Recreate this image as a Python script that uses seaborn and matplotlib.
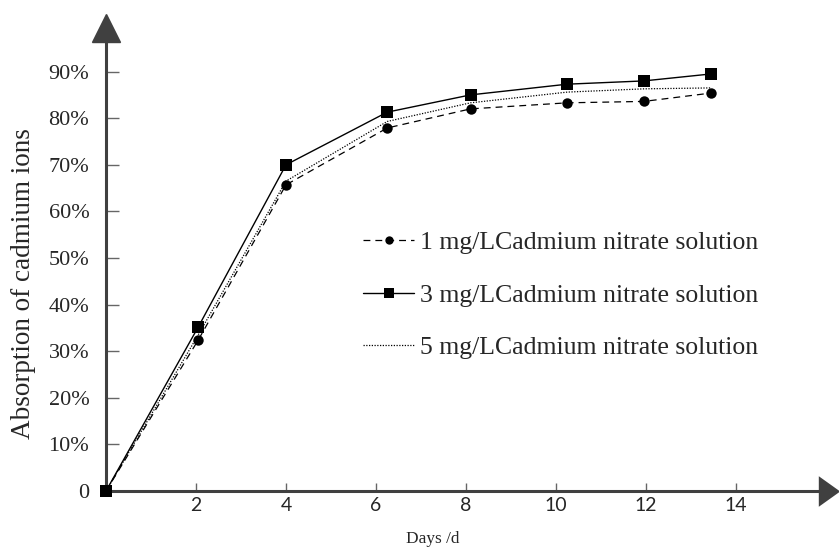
import matplotlib
matplotlib.use("Agg")
import matplotlib.pyplot as plt
import seaborn as sns
import numpy as np

# ---- data ----
days = [0, 2.05, 4.0, 6.25, 8.1, 10.25, 11.95, 13.45]
cd_1mg = [0, 32.4, 65.7, 77.9, 82.0, 83.3, 83.6, 85.4]
cd_3mg = [0, 35.2, 70.0, 81.3, 85.0, 87.3, 88.0, 89.5]
cd_5mg = [0, 33.5, 66.5, 79.3, 83.3, 85.6, 86.3, 86.5]
labels = ["1 mg/LCadmium nitrate solution",
          "3 mg/LCadmium nitrate solution",
          "5 mg/LCadmium nitrate solution"]
x_ticks = [2, 4, 6, 8, 10, 12, 14]
y_ticks = [0, 10, 20, 30, 40, 50, 60, 70, 80, 90]
y_ticklabels = ["0", "10%", "20%", "30%", "40%", "50%", "60%", "70%", "80%", "90%"]

sns.set_style("white")
plt.rcParams["font.family"] = ["Liberation Serif", "DejaVu Serif"]

W, H = 839, 547
fig = plt.figure(figsize=(W / 100, H / 100), dpi=100)
x0, y0 = 106, 491          # pixel of the origin
x1, y1 = 828.5, 27.5       # pixel of arrow centres
ax = fig.add_axes([x0 / W, (H - y0) / H, (x1 - x0) / W, (y0 - y1) / H])

px_per_day = 45.0
px_per_pct = 4.66
ax.set_xlim(0, (x1 - x0) / px_per_day)
ax.set_ylim(0, (y0 - y1) / px_per_pct)

ink = "black"
sns.lineplot(x=days, y=cd_1mg, ax=ax, color=ink, linewidth=0.9,
             linestyle=(0, (5.5, 4)), marker="o", markersize=7.5,
             markeredgewidth=0, label=labels[0], clip_on=False, zorder=3)
sns.lineplot(x=days, y=cd_3mg, ax=ax, color=ink, linewidth=1.0,
             linestyle="-", marker="s", markersize=8.5,
             markeredgewidth=0, label=labels[1], clip_on=False, zorder=4)
sns.lineplot(x=days, y=cd_5mg, ax=ax, color=ink, linewidth=0.9,
             linestyle=(0, (1, 1.2)), label=labels[2], clip_on=False, zorder=2)

# axes / spines
axis_col = "#404040"
for s in ["top", "right"]:
    ax.spines[s].set_visible(False)
for s in ["left", "bottom"]:
    ax.spines[s].set_linewidth(2.2)
    ax.spines[s].set_color(axis_col)
    ax.spines[s].set_zorder(1)

# arrow heads
ax.plot([0], [1], marker="^", markersize=20, color=axis_col,
        transform=ax.transAxes, clip_on=False, zorder=1)
arrow_r = [(-0.35, -0.5), (0.35, 0.0), (-0.35, 0.5)]
ax.plot([1], [0], marker=arrow_r, markersize=22, color=axis_col,
        markeredgewidth=0, transform=ax.transAxes, clip_on=False, zorder=1)

ax.set_xticks(x_ticks)
ax.set_xticklabels([str(t) for t in x_ticks], fontfamily="Lato", fontsize=14)
ax.set_yticks(y_ticks)
ax.set_yticklabels(y_ticklabels, fontsize=16)
ax.tick_params(axis="y", direction="in", length=9.5, width=1.0,
               color="#666666", pad=12, left=True)
ax.tick_params(axis="x", direction="in", length=6, width=1.0,
               color="#666666", pad=4, bottom=True)

ax.set_xlabel("Days /d", fontsize=12.4)
ax.xaxis.set_label_coords((433 - x0) / (x1 - x0), (y0 - 539) / (y0 - y1))
ax.xaxis.label.set_va("center")
ax.set_ylabel("Absorption of cadmium ions", fontsize=19.5)
ax.yaxis.set_label_coords((23 - x0) / (x1 - x0), (y0 - 284) / (y0 - y1))
ax.yaxis.label.set_va("center")

leg = ax.legend(loc="upper left",
                bbox_to_anchor=((363 - x0) / (x1 - x0), (y0 - 231) / (y0 - y1)),
                frameon=False, fontsize=18.5, handlelength=2.0,
                handletextpad=0.2, labelspacing=1.15, borderpad=0,
                borderaxespad=0, markerscale=0.8)

fig.savefig("out.png", dpi=100)
